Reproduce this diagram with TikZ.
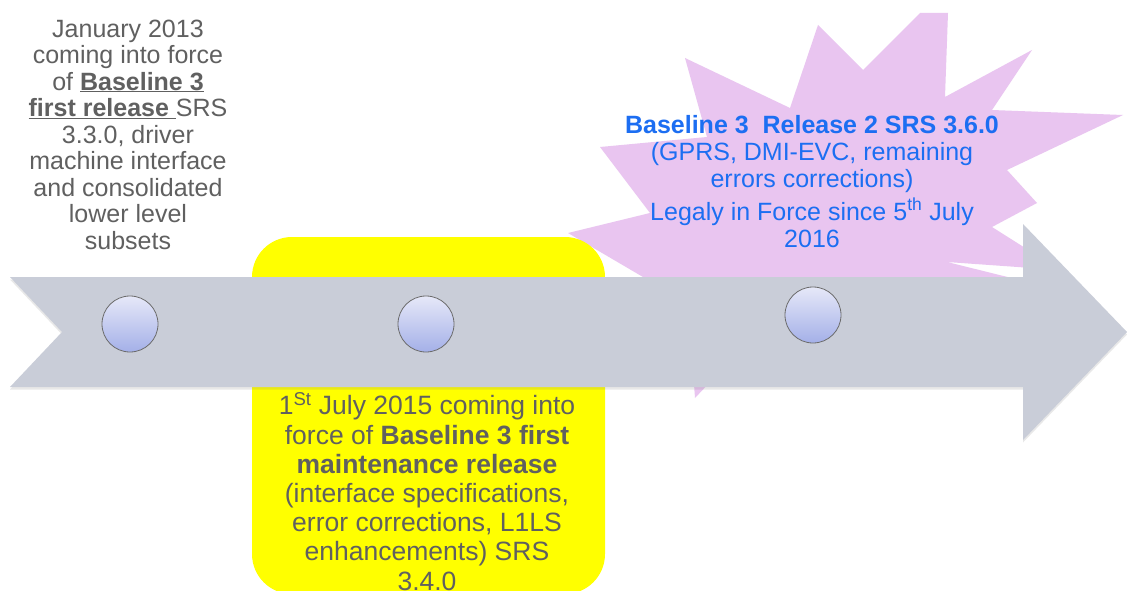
\documentclass[tikz,border=0pt]{standalone}
\usepackage{fontspec}
\setmainfont{Liberation Sans}
\definecolor{arrowgray}{RGB}{201,205,216}
\definecolor{burst}{RGB}{233,197,240}
\definecolor{txtgray}{RGB}{96,96,96}
\definecolor{txtblue}{RGB}{28,110,242}
\definecolor{ballTop}{RGB}{230,232,248}
\definecolor{ballBot}{RGB}{164,176,232}
\definecolor{hiyellow}{RGB}{255,255,0}
\begin{document}
\begin{tikzpicture}[x=1pt,y=-1pt,
  ball/.style={circle, minimum size=56pt, inner sep=0pt, top color=ballTop, bottom color=ballBot, draw=gray!85!black, line width=0.8pt},
  grayblock/.style={align=center, text=txtgray, inner sep=0pt, anchor=base},
  blueblock/.style={align=center, text=txtblue, inner sep=0pt, anchor=base},
]
\useasboundingbox (0,0) rectangle (1127,591);
\clip (0,0) rectangle (1127,591);
\fill[white] (0,0) rectangle (1127,591);
% starburst
\fill[burst] (920,13) -- (948,13) -- (945,97) -- (1032,50) -- (992,110) -- (1123,115)
  -- (1007,170) -- (1037,203) -- (992,227) -- (1060,270) -- (947,262) -- (1060,290)
  -- (960,330) -- (712,380) -- (695,398) -- (690,330) -- (643,277) -- (568,233)
  -- (650,213) -- (600,147) -- (707,137) -- (685,58) -- (790,108) -- (818,25)
  -- (863,70) -- cycle;
% yellow box
\fill[hiyellow, rounded corners=40pt] (252,237) rectangle (605,594);
% arrow shadow and arrow
\fill[gray, opacity=0.18] (10,279.5) -- (1023,279.5) -- (1023,226.5) -- (1127,334.5) -- (1023,442.5)
  -- (1023,389.5) -- (10,389.5) -- (62,334.5) -- cycle;
\fill[arrowgray] (10,277) -- (1023,277) -- (1023,224) -- (1127,332) -- (1023,440)
  -- (1023,387) -- (10,387) -- (62,332) -- cycle;
% milestones
\node[ball] (m1) at (130,324) {};
\node[ball] (m2) at (426,324) {};
\node[ball] (m3) at (813,315) {};
% texts (anchor base = baseline of the last line)
\node[grayblock, font=\fontsize{25}{26.5}\selectfont] (t1) at (128,249)
  {January 2013\\coming into force\\of \underline{\textbf{Baseline 3}}\\\underline{\textbf{first release }}SRS\\3.3.0, driver\\machine interface\\and consolidated\\lower level\\subsets};
\node[grayblock, font=\fontsize{26.5}{29.2}\selectfont] (t2) at (427,590)
  {1\textsuperscript{St} July 2015 coming into\\force of \textbf{Baseline 3 first}\\\textbf{maintenance release}\\(interface specifications,\\error corrections, L1LS\\enhancements) SRS\\3.4.0};
\node[blueblock, font=\fontsize{25}{27}\selectfont] (t3) at (812,247)
  {\textbf{Baseline 3\ \ Release 2 SRS 3.6.0}\\(GPRS, DMI-EVC, remaining\\errors corrections)\\[6pt]Legaly in Force since 5\textsuperscript{th} July\\2016};
\end{tikzpicture}
\end{document}
